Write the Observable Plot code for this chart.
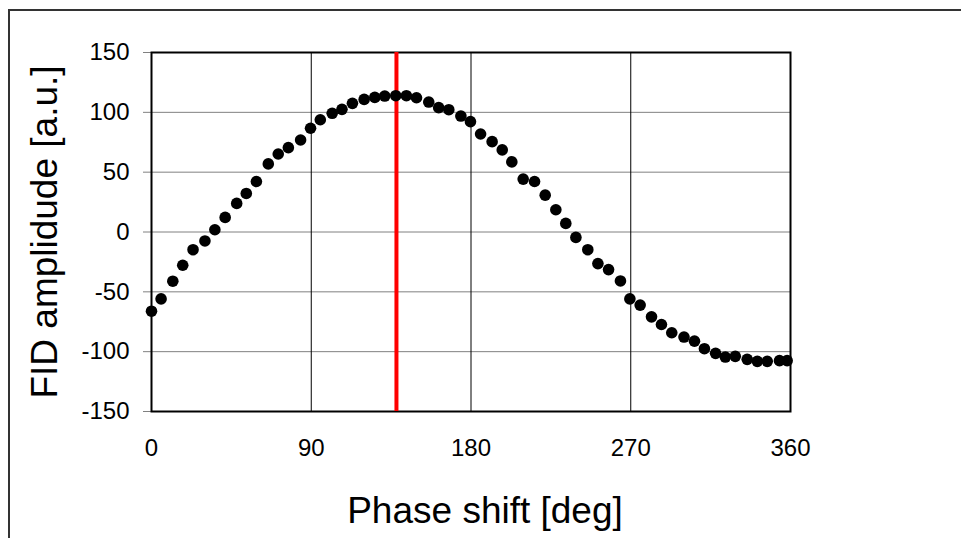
<!DOCTYPE html>
<html>
<head>
<meta charset="utf-8">
<script src="https://cdn.jsdelivr.net/npm/d3@7"></script>
<script src="https://cdn.jsdelivr.net/npm/@observablehq/plot@0.6"></script>
<style>
  html, body { margin: 0; padding: 0; background: #fff; }
  #wrap { position: relative; width: 961px; height: 538px; overflow: hidden; }
  #border { position: absolute; left: 8px; top: 9px; width: 1000px; height: 600px;
            border-left: 2px solid #333; border-top: 2px solid #333; pointer-events: none; }
  svg { font-family: "Liberation Sans", Arial, sans-serif; }
</style>
</head>
<body>
<div id="wrap"><div id="border"></div></div>
<script>
const phase = [0,5.4,12,17.6,23.4,30.1,35.7,41.5,48,53.4,59.1,65.8,71.4,77.1,84,89.6,95.1,101.8,107.3,113.2,119.8,125.8,131.4,137.6,143.6,149.3,156.2,161.8,167.5,174.3,179.7,185.4,191.9,197.6,203,209.4,215.8,221.8,227.8,233.4,239.1,245.8,251.5,257.5,264.2,269.5,275.3,281.7,287.3,293.1,300,305.9,311.5,317.8,323.3,328.9,335.6,341.3,346.9,353.8,358.1];
const amplitude = [-66.2,-55.9,-41.1,-27.8,-14.8,-7.5,1.9,12.2,23.9,32.2,42.2,56.9,65.2,70.5,76.9,86.7,93.8,99.2,102.5,107.5,110.8,112.5,113.6,113.9,113.9,112.2,108.6,103.9,102.2,96.9,92.2,81.9,75.5,68.6,58.6,44.2,42.2,30.8,18.6,7.2,-4.5,-14.8,-26.4,-31.4,-40.9,-55.9,-61.1,-70.9,-77.3,-84.2,-87.8,-91.2,-97.5,-101.4,-104.5,-103.9,-106.4,-108.1,-108.1,-107.5,-107.5];
const xTicks = [0, 90, 180, 270, 360];
const yTicks = [-150, -100, -50, 0, 50, 100, 150];
const markerPhase = [138];
const xTitle = "Phase shift [deg]";
const yTitle = "FID amplidude [a.u.]";

const data = phase.map((p, i) => ({phase: p, amp: amplitude[i]}));

const chart = Plot.plot({
  width: 961,
  height: 538,
  marginLeft: 151,
  marginRight: 171,
  marginTop: 52,
  marginBottom: 127,
  style: {fontFamily: '"Liberation Sans", Arial, sans-serif', background: "white"},
  x: {domain: [0, 360]},
  y: {domain: [-150, 150]},
  marks: [
    Plot.gridY(yTicks, {stroke: "#808080", strokeOpacity: 1, strokeWidth: 1}),
    Plot.gridX(xTicks, {stroke: "#000", strokeOpacity: 1, strokeWidth: 1}),
    Plot.axisY(yTicks, {tickSize: 8, tickPadding: 14, stroke: "#808080", fontSize: 24, fill: "#000", label: null, tickFormat: d => String(d)}),
    Plot.axisX(xTicks, {tickSize: 0, tickPadding: 27, fontSize: 24, fill: "#000", label: null, tickFormat: d => String(d)}),
    Plot.frame({stroke: "#000", strokeWidth: 2}),
    Plot.ruleX(markerPhase, {stroke: "#ff0000", strokeWidth: 4}),
    Plot.dot(data, {x: "phase", y: "amp", r: 5.8, fill: "#000", stroke: "none"}),
    Plot.text([xTitle], {frameAnchor: "bottom", dx: 14, dy: 100, fontSize: 37, fill: "#000", lineAnchor: "middle", textAnchor: "middle"}),
    Plot.text([yTitle], {frameAnchor: "left", dx: -106, rotate: -90, fontSize: 37, fill: "#000", lineAnchor: "middle", textAnchor: "middle"})
  ]
});
document.getElementById("wrap").insertBefore(chart, document.getElementById("border"));
</script>
</body>
</html>
